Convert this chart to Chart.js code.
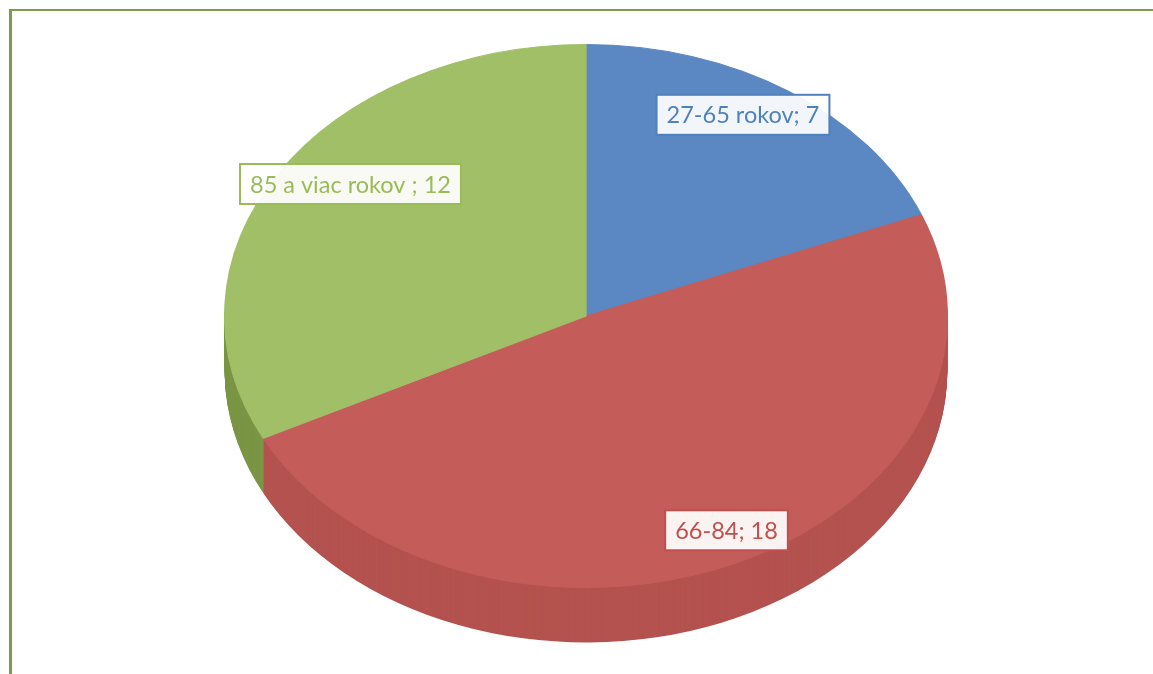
<!DOCTYPE html>
<html>
<head>
<meta charset="utf-8">
<script src="https://cdn.jsdelivr.net/npm/chart.js@4.4.1/dist/chart.umd.min.js"></script>
<style>
html, body { margin: 0; padding: 0; background: #fff; overflow: hidden; }
#frame { position: absolute; left: 9px; top: 9px; width: 1400px; height: 900px;
         border-top: 2px solid #7e9a48; border-left: 3px solid #7e9a48; }
#wrap { position: absolute; left: 0; top: 0; width: 1153px; height: 674px; }
</style>
</head>
<body>
<div id="frame"></div>
<div id="wrap"><canvas id="pieChart"></canvas></div>
<script>
const categories = ['27-65 rokov', '66-84', '85 a viac rokov '];
const values = [7, 18, 12];

const topColors = ['#5b88c2', '#c45d5a', '#a1bf67'];
const sideColors = ['#4d77ab', '#b4524f', '#7a9545'];
const lineColors = ['#4f81bd', '#c0504d', '#9bbb59'];

// ellipse look: pie is drawn as a circle and stretched sideways
const stretchX = 362 / 272;
const depth = 55;
// label placement: fraction of radius along mid angle + nudge
const labelFrac = 0.85;
const labelNudge = [[-15, -10], [14, 4], [26, -11]];

const pie3d = {
    id: 'pie3d',
    beforeDatasetsDraw(chart) {
        const ctx = chart.ctx;
        const arcs = chart.getDatasetMeta(0).data;
        const cx = arcs[0].x;
        ctx.save();
        ctx.translate(cx, 0);
        ctx.scale(stretchX, 1);
        ctx.translate(-cx, 0);
        // side walls, painted from bottom up
        for (let d = depth; d > 0; d--) {
            arcs.forEach((a, i) => {
                ctx.beginPath();
                ctx.moveTo(a.x, a.y + d);
                ctx.arc(a.x, a.y + d, a.outerRadius, a.startAngle, a.endAngle);
                ctx.closePath();
                ctx.fillStyle = sideColors[i];
                ctx.fill();
            });
        }
    },
    afterDatasetsDraw(chart) {
        const ctx = chart.ctx;
        ctx.restore();
        const arcs = chart.getDatasetMeta(0).data;
        ctx.save();
        ctx.font = '23.5px Lato';
        ctx.textAlign = 'center';
        ctx.textBaseline = 'middle';
        arcs.forEach((a, i) => {
            const mid = (a.startAngle + a.endAngle) / 2;
            const x = a.x + labelFrac * a.outerRadius * stretchX * Math.cos(mid) + labelNudge[i][0];
            const y = a.y + labelFrac * a.outerRadius * Math.sin(mid) + labelNudge[i][1];
            const text = categories[i] + '; ' + values[i];
            const w = ctx.measureText(text).width + 20;
            const h = 40;
            ctx.fillStyle = 'rgba(255,255,255,0.92)';
            ctx.fillRect(x - w / 2, y - h / 2, w, h);
            ctx.strokeStyle = lineColors[i];
            ctx.lineWidth = 2;
            ctx.strokeRect(x - w / 2, y - h / 2, w, h);
            ctx.fillStyle = lineColors[i];
            ctx.fillText(text, x, y + 1);
        });
        ctx.restore();
    }
};

const ctx = document.getElementById('pieChart').getContext('2d');
const pieChart = new Chart(ctx, {
    type: 'pie',
    data: {
        labels: categories,
        datasets: [{
            data: values,
            backgroundColor: topColors,
            borderColor: topColors,
            borderWidth: 1
        }]
    },
    options: {
        animation: false,
        responsive: true,
        maintainAspectRatio: false,
        layout: { padding: { left: 314, right: 295, top: 44, bottom: 86 } },
        plugins: {
            legend: { display: false },
            tooltip: { enabled: false }
        }
    },
    plugins: [pie3d]
});
</script>
</body>
</html>
